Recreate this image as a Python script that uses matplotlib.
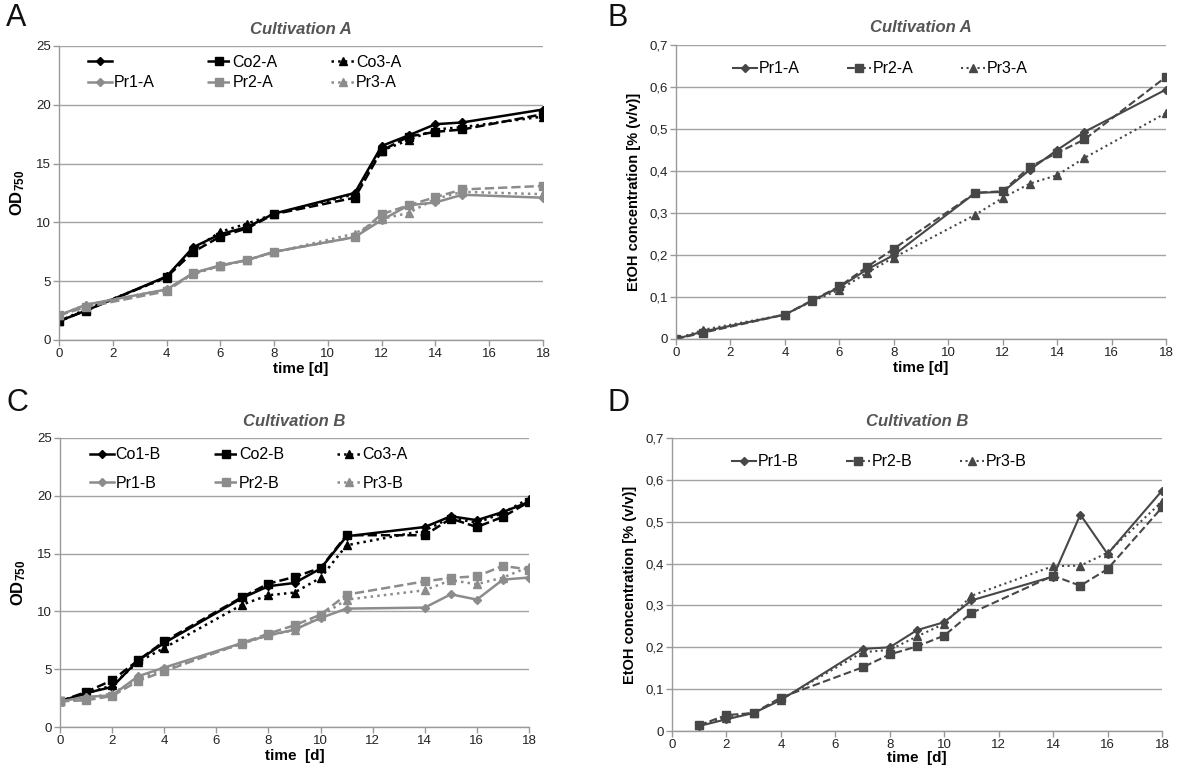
import matplotlib
matplotlib.use("Agg")
import matplotlib.pyplot as plt
from matplotlib.ticker import FuncFormatter, MultipleLocator

plt.rcParams['font.family'] = ['Liberation Sans', 'DejaVu Sans']
plt.rcParams['mathtext.fontset'] = 'custom'
plt.rcParams['mathtext.rm'] = 'Liberation Sans'
plt.rcParams['mathtext.bf'] = 'Liberation Sans:bold'

# ---------------- data ----------------
days_A = [0, 1, 4, 5, 6, 7, 8, 11, 12, 13, 14, 15, 18]
co1_A = [1.6, 2.5, 5.4, 7.9, 9.0, 9.6, 10.75, 12.5, 16.5, 17.4, 18.35, 18.5, 19.6]
co2_A = [1.6, 2.5, 5.35, 7.5, 8.8, 9.5, 10.7, 12.1, 16.1, 17.3, 17.7, 17.9, 19.2]
co3_A = [1.6, 2.6, 5.3, 7.7, 9.2, 9.9, 10.7, 12.4, 16.1, 17.0, 17.9, 18.1, 19.0]
pr1_A = [2.1, 3.0, 4.3, 5.7, 6.35, 6.8, 7.5, 8.75, 10.2, 11.45, 11.7, 12.35, 12.1]
pr2_A = [2.1, 2.8, 4.15, 5.7, 6.3, 6.8, 7.5, 8.75, 10.7, 11.45, 12.15, 12.8, 13.1]
pr3_A = [2.1, 3.0, 4.3, 5.6, 6.3, 6.8, 7.45, 9.05, 10.3, 10.8, 12.0, 12.6, 12.4]

eth_days_A = [0, 1, 4, 5, 6, 7, 8, 11, 12, 13, 14, 15, 18]
eth_pr1_A = [0.0, 0.018, 0.058, 0.091, 0.123, 0.165, 0.200, 0.348, 0.350, 0.403, 0.450, 0.493, 0.594]
eth_pr2_A = [0.0, 0.015, 0.058, 0.092, 0.125, 0.171, 0.215, 0.348, 0.352, 0.410, 0.443, 0.475, 0.624]
eth_pr3_A = [0.0, 0.022, 0.058, 0.090, 0.117, 0.157, 0.194, 0.296, 0.336, 0.370, 0.390, 0.431, 0.538]

days_B = [0, 1, 2, 3, 4, 7, 8, 9, 10, 11, 14, 15, 16, 17, 18]
co1_B = [2.22, 2.94, 3.46, 5.77, 7.27, 11.17, 12.18, 12.46, 13.7, 16.5, 17.3, 18.23, 17.89, 18.6, 19.47]
co2_B = [2.22, 3.03, 4.04, 5.77, 7.41, 11.25, 12.4, 12.98, 13.76, 16.59, 16.59, 18.03, 17.3, 18.18, 19.47]
co3_B = [2.22, 2.89, 3.6, 5.63, 6.84, 10.59, 11.4, 11.63, 12.9, 15.72, 17.0, 18.1, 17.66, 18.52, 19.76]
pr1_B = [2.22, 2.6, 2.74, 4.39, 5.14, 7.27, 7.93, 8.42, 9.43, 10.24, 10.33, 11.48, 11.02, 12.75, 12.93]
pr2_B = [2.22, 2.31, 2.68, 3.98, 4.82, 7.27, 8.08, 8.8, 9.72, 11.45, 12.6, 12.9, 13.04, 13.94, 13.62]
pr3_B = [2.22, 2.51, 2.89, 4.18, 4.99, 7.21, 7.93, 8.37, 9.58, 11.02, 11.83, 12.7, 12.35, 12.93, 13.85]

eth_days_B = [1, 2, 3, 4, 7, 8, 9, 10, 11, 14, 15, 16, 18]
eth_pr1_B = [0.012, 0.028, 0.043, 0.074, 0.196, 0.200, 0.241, 0.260, 0.312, 0.369, 0.517, 0.423, 0.574]
eth_pr2_B = [0.014, 0.038, 0.043, 0.080, 0.152, 0.183, 0.202, 0.228, 0.282, 0.371, 0.347, 0.387, 0.534]
eth_pr3_B = [0.014, 0.032, 0.044, 0.075, 0.188, 0.194, 0.226, 0.256, 0.323, 0.394, 0.395, 0.426, 0.548]

labels_A = ['', 'Co2-A', 'Co3-A', 'Pr1-A', 'Pr2-A', 'Pr3-A']
labels_C = ['Co1-B', 'Co2-B', 'Co3-A', 'Pr1-B', 'Pr2-B', 'Pr3-B']
labels_B = ['Pr1-A', 'Pr2-A', 'Pr3-A']
labels_D = ['Pr1-B', 'Pr2-B', 'Pr3-B']

# ---------------- style ----------------
W, H = 1200, 778
fig = plt.figure(figsize=(W / 100, H / 100), dpi=100)

def add_ax(l, r, t, b):
    return fig.add_axes([l / W, 1 - b / H, (r - l) / W, (b - t) / H])

GRID = '#a3a3a3'
TXT = '#222222'
BLACK = '#000000'
GRAY = '#8c8c8c'
DARK = '#474747'
TITLE = '#555555'
styles = [('-', 'D', 4.5), ('--', 's', 6), (':', '^', 5.5)]
LEG_FS = 11.5


def style_axes(ax, ymax, ystep, fmt=None):
    ax.set_xlim(0, 18)
    ax.set_ylim(0, ymax)
    ax.xaxis.set_major_locator(MultipleLocator(2))
    ax.yaxis.set_major_locator(MultipleLocator(ystep))
    ax.grid(axis='y', color=GRID, linewidth=1.0)
    ax.set_axisbelow(True)
    for s in ['top', 'right']:
        ax.spines[s].set_visible(False)
    for s in ['left', 'bottom']:
        ax.spines[s].set_color('#9a9a9a')
        ax.spines[s].set_linewidth(1.0)
    ax.tick_params(axis='both', direction='out', length=4, width=1,
                   color='#9a9a9a', labelsize=9.5, labelcolor=TXT, pad=2)
    if fmt is not None:
        ax.yaxis.set_major_formatter(FuncFormatter(fmt))


def comma_fmt(v, pos):
    if abs(v) < 1e-9:
        return '0'
    return ('%.1f' % v).replace('.', ',')


def od_panel(ax, days, series, colors, labels, anchor, labelspacing):
    handles = []
    for (ls, mk, ms), ys, c in zip(styles * 2, series, colors):
        h, = ax.plot(days, ys, linestyle=ls, marker=mk, markersize=ms,
                     color=c, linewidth=1.8)
        handles.append(h)
    style_axes(ax, 25, 5)
    ax.set_ylabel(r'$\mathbf{OD_{750}}$', fontsize=12, labelpad=6)
    # row-major order for a 2x3 legend (matplotlib fills column-wise)
    order = [0, 3, 1, 4, 2, 5]
    ax.legend([handles[i] for i in order], [labels[i] for i in order],
              ncol=3, loc='upper left', bbox_to_anchor=anchor,
              frameon=False, fontsize=LEG_FS, handlelength=1.5,
              handletextpad=0.1, columnspacing=3.3,
              labelspacing=labelspacing, numpoints=1,
              borderaxespad=0, borderpad=0)


def eth_panel(ax, days, series, labels, anchor):
    handles = []
    for (ls, mk, ms), ys in zip(styles, series):
        h, = ax.plot(days, ys, linestyle=ls, marker=mk, markersize=ms,
                     color=DARK, linewidth=1.5)
        handles.append(h)
    style_axes(ax, 0.7, 0.1, comma_fmt)
    ax.set_ylabel('EtOH concentration [% (v/v)]', fontsize=10.5,
                  fontweight='bold', labelpad=6)
    ax.legend(handles, labels, ncol=3, loc='upper left',
              bbox_to_anchor=anchor, frameon=False,
              fontsize=LEG_FS, handlelength=1.5, handletextpad=0.1,
              columnspacing=3.0, numpoints=1, borderaxespad=0, borderpad=0)


def title(ax, text):
    ax.set_title(text, fontsize=12, fontweight='bold',
                 fontstyle='italic', color=TITLE, pad=9)


# Panel A
axA = add_ax(59, 543, 46, 340)
od_panel(axA, days_A, [co1_A, co2_A, co3_A, pr1_A, pr2_A, pr3_A],
         [BLACK] * 3 + [GRAY] * 3, labels_A, (0.06, 0.97), 0.35)
axA.set_xlabel('time [d]', fontsize=11, fontweight='bold', labelpad=1)
title(axA, 'Cultivation A')

# Panel B
axB = add_ax(676, 1166, 45, 339)
eth_panel(axB, eth_days_A, [eth_pr1_A, eth_pr2_A, eth_pr3_A], labels_B,
          (0.116, 0.945))
axB.set_xlabel('time [d]', fontsize=11, fontweight='bold', labelpad=1)
title(axB, 'Cultivation A')

# Panel C
axC = add_ax(60, 529, 438, 727)
od_panel(axC, days_B, [co1_B, co2_B, co3_B, pr1_B, pr2_B, pr3_B],
         [BLACK] * 3 + [GRAY] * 3, labels_C, (0.064, 0.968), 0.85)
axC.set_xlabel('time  [d]', fontsize=11, fontweight='bold', labelpad=1)
title(axC, 'Cultivation B')

# Panel D
axD = add_ax(672, 1162, 438, 731)
eth_panel(axD, eth_days_B, [eth_pr1_B, eth_pr2_B, eth_pr3_B], labels_D,
          (0.122, 0.945))
axD.set_xlabel('time  [d]', fontsize=11, fontweight='bold', labelpad=0)
title(axD, 'Cultivation B')

# Panel letters
for letter, x, y in [('A', 6, 3), ('B', 608, 3), ('C', 6, 388), ('D', 608, 388)]:
    fig.text(x / W, 1 - y / H, letter, fontsize=22, va='top', ha='left', color='#111111')

fig.savefig('out.png', dpi=100, facecolor='white')
